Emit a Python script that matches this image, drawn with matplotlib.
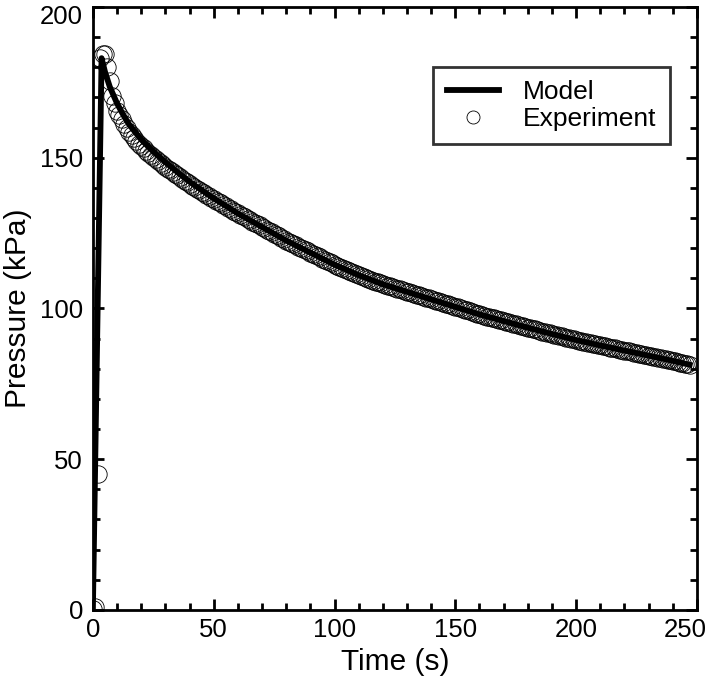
import numpy as np
import matplotlib
matplotlib.use("Agg")
import matplotlib.pyplot as plt
from matplotlib.ticker import MultipleLocator
from matplotlib.transforms import ScaledTranslation

plt.rcParams["font.family"] = ["Liberation Sans", "DejaVu Sans"]

# model curve
model_time = [0, 3.6, 5, 7, 10, 12.5, 15, 20, 25, 30, 35, 40, 50, 60, 70, 80, 90,
              100, 110, 120, 130, 140, 150, 160, 170, 180, 190, 200, 210, 220,
              230, 240, 247]
model_pressure = [0, 183, 178.5, 173.5, 168, 164.3, 161, 156, 152, 148.5, 145.2,
                  142, 136.5, 131.5, 127, 122.5, 118.5, 114.5, 111, 108, 105.5,
                  103, 100.5, 98, 95.8, 93.6, 91.5, 89.5, 87.7, 86, 84.3, 82.6,
                  81.3]

# experiment, one sample per second
sample_step = 1.0
exp_pressure = [
    0.3, 1.0, 45.0, 183.0, 184.5, 184.3, 180.0, 175.5, 170.5, 168.0,
    165.5, 164.1, 162.7, 161.3, 159.9, 158.5, 157.5, 156.5, 155.5, 154.5,
    153.8, 153.1, 152.3, 151.6, 150.9, 150.2, 149.5, 148.9, 148.3, 147.6,
    147.0, 146.4, 145.8, 145.3, 144.7, 144.1, 143.5, 142.9, 142.4, 141.8,
    141.2, 140.7, 140.2, 139.7, 139.2, 138.7, 138.2, 137.7, 137.2, 136.7,
    136.2, 135.7, 135.3, 134.8, 134.3, 133.9, 133.4, 132.9, 132.4, 132.0,
    131.5, 131.1, 130.6, 130.2, 129.7, 129.3, 128.8, 128.4, 127.9, 127.5,
    127.0, 126.6, 126.1, 125.7, 125.2, 124.8, 124.3, 123.9, 123.4, 123.0,
    122.5, 122.1, 121.7, 121.3, 120.9, 120.5, 120.1, 119.7, 119.3, 118.9,
    118.5, 118.1, 117.7, 117.3, 116.9, 116.5, 116.1, 115.7, 115.3, 114.9,
    114.5, 114.2, 113.8, 113.5, 113.1, 112.8, 112.4, 112.1, 111.7, 111.4,
    111.0, 110.7, 110.4, 110.1, 109.8, 109.5, 109.2, 108.9, 108.6, 108.3,
    108.0, 107.8, 107.5, 107.3, 107.0, 106.8, 106.5, 106.3, 106.0, 105.8,
    105.5, 105.3, 105.0, 104.8, 104.5, 104.3, 104.0, 103.8, 103.5, 103.3,
    103.0, 102.8, 102.5, 102.3, 102.0, 101.8, 101.5, 101.3, 101.0, 100.8,
    100.5, 100.3, 100.0, 99.8, 99.5, 99.3, 99.0, 98.8, 98.5, 98.3,
    98.0, 97.8, 97.6, 97.3, 97.1, 96.9, 96.7, 96.5, 96.2, 96.0,
    95.8, 95.6, 95.4, 95.1, 94.9, 94.7, 94.5, 94.3, 94.0, 93.8,
    93.6, 93.4, 93.2, 93.0, 92.8, 92.6, 92.3, 92.1, 91.9, 91.7,
    91.5, 91.3, 91.1, 90.9, 90.7, 90.5, 90.3, 90.1, 89.9, 89.7,
    89.5, 89.3, 89.1, 89.0, 88.8, 88.6, 88.4, 88.2, 88.1, 87.9,
    87.7, 87.5, 87.4, 87.2, 87.0, 86.9, 86.7, 86.5, 86.3, 86.2,
    86.0, 85.8, 85.7, 85.5, 85.3, 85.2, 85.0, 84.8, 84.6, 84.5,
    84.3, 84.1, 84.0, 83.8, 83.6, 83.5, 83.3, 83.1, 82.9, 82.8,
    82.6, 82.4, 82.2, 82.0, 81.8, 81.6, 81.5, 81.3,
]
exp_time = np.arange(len(exp_pressure)) * sample_step

fig = plt.figure(figsize=(7.09, 6.93), dpi=100)
ax = fig.add_axes([0.131, 0.120, 0.852, 0.870])

ax.plot(exp_time, exp_pressure, "o", mfc="none", mec="black", ms=12.5, mew=0.6,
        label="Experiment", zorder=2)
ax.plot(model_time, model_pressure, "-", color="black", lw=4.2, label="Model", zorder=3)

ax.set_xlim(0, 250)
ax.set_ylim(0, 200)
ax.xaxis.set_major_locator(MultipleLocator(50))
ax.xaxis.set_minor_locator(MultipleLocator(10))
ax.yaxis.set_major_locator(MultipleLocator(50))
ax.yaxis.set_minor_locator(MultipleLocator(10))
ax.tick_params(which="both", direction="in", top=True, right=True, width=2,
               labelsize=18.5)
ax.tick_params(which="major", length=8)
ax.tick_params(which="minor", length=5)
ax.tick_params(axis="y", pad=7)
ax.tick_params(axis="x", pad=6)
for s in ax.spines.values():
    s.set_linewidth(2)

ax.set_xlabel("Time (s)", fontsize=21.5, labelpad=4)
ax.set_ylabel("Pressure (kPa)", fontsize=21.5, labelpad=6)

h, l = ax.get_legend_handles_labels()
leg = ax.legend(h[::-1], l[::-1], loc="upper right", bbox_to_anchor=(0.955, 0.90),
                borderaxespad=0, fancybox=False, fontsize=19, handlelength=2.0,
                handletextpad=0.9, markerscale=0.75, labelspacing=0.1,
                borderpad=0.5)
leg.get_frame().set_edgecolor("black")
leg.get_frame().set_linewidth(2)

# keep the edge tick labels inside the picture, like the original
fig.canvas.draw()
for t in ax.get_xticklabels():
    if t.get_text() == "250":
        t.set_transform(t.get_transform() + ScaledTranslation(-0.12, 0, fig.dpi_scale_trans))
for t in ax.get_yticklabels():
    if t.get_text() == "200":
        t.set_transform(t.get_transform() + ScaledTranslation(0, -0.08, fig.dpi_scale_trans))

fig.savefig("out.png", dpi=100)
